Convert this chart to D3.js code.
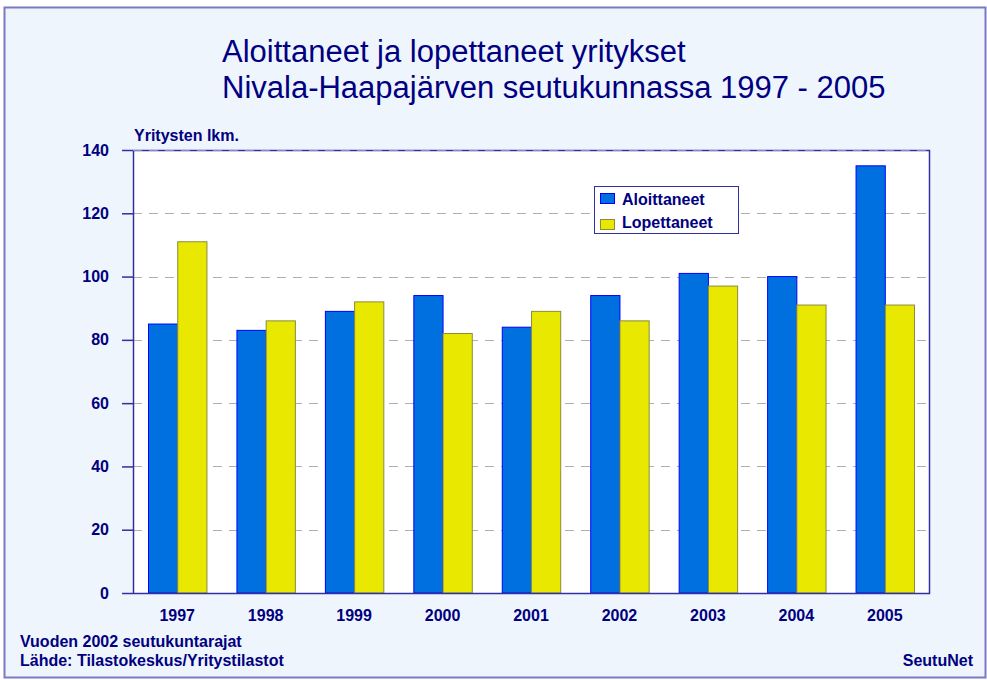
<!DOCTYPE html>
<html>
<head>
<meta charset="utf-8">
<script src="https://cdn.jsdelivr.net/npm/d3@7"></script>
<style>
  body { margin: 0; background: #fff; }
  svg text { font-family: "Liberation Sans", Arial, sans-serif; fill: #000080; }
</style>
</head>
<body>
<div id="chart"></div>
<script>
let years = ["1997", "1998", "1999", "2000", "2001", "2002", "2003", "2004", "2005"];
let aloittaneet = [85, 83, 89, 94, 84, 94, 101, 100, 135];
let lopettaneet = [111, 86, 92, 82, 89, 86, 97, 91, 91];
let seriesNames = ["Aloittaneet", "Lopettaneet"];
let yTicks = [0, 20, 40, 60, 80, 100, 120, 140];

let W = 987, H = 680;
let margin = {top: 150, right: 58, left: 133, bottom: 87};
let width = W - margin.left - margin.right;
let height = H - margin.top - margin.bottom;

let svg = d3.select("#chart").append("svg")
    .attr("width", W)
    .attr("height", H);

// background + outer frame
svg.append("rect")
    .attr("x", 4.5).attr("y", 7.5)
    .attr("width", W - 6).attr("height", H - 10)
    .attr("fill", "#eff5fd")
    .attr("stroke", "#7a7ac4")
    .attr("stroke-width", 2);

svg.append("text").attr("x", 222).attr("y", 62)
    .attr("font-size", 31).text("Aloittaneet ja lopettaneet yritykset");
svg.append("text").attr("x", 222).attr("y", 98)
    .attr("font-size", 31).text("Nivala-Haapajärven seutukunnassa 1997 - 2005");

let g = svg.append("g")
    .attr("transform", "translate(" + margin.left + "," + margin.top + ")");

let x = d3.scaleBand().domain(years).range([0, width]).paddingInner(0).paddingOuter(0);
let x1 = d3.scaleBand().domain(seriesNames).range([15, x.bandwidth() - 15]);
let y = d3.scaleLinear().domain([0, 140]).range([height, 0]);

g.append("rect")
    .attr("width", width).attr("height", height)
    .attr("fill", "#fff");

// grid
g.selectAll(".grid").data(yTicks.slice(1, -1)).enter()
    .append("line")
    .attr("x1", 0).attr("x2", width)
    .attr("y1", d => Math.round(y(d)) + 0.5).attr("y2", d => Math.round(y(d)) + 0.5)
    .attr("stroke", "#b0b0b0")
    .attr("stroke-dasharray", "9,7");

let data = years.map((yr, i) => ({year: yr, values: [
    {key: "Aloittaneet", value: aloittaneet[i]},
    {key: "Lopettaneet", value: lopettaneet[i]}
]}));

let fills = {"Aloittaneet": "#0070e0", "Lopettaneet": "#e8e800"};
let strokes = {"Aloittaneet": "#0000ff", "Lopettaneet": "#8c8c3c"};

let groups = g.selectAll(".grp").data(data).enter()
    .append("g")
    .attr("transform", d => "translate(" + x(d.year) + ",0)");

groups.selectAll("rect").data(d => d.values).enter()
    .append("rect")
    .attr("x", d => x1(d.key) + 0.5)
    .attr("y", d => y(d.value))
    .attr("width", x1.bandwidth())
    .attr("height", d => height - y(d.value))
    .attr("fill", d => fills[d.key])
    .attr("stroke", d => strokes[d.key])
    .attr("stroke-width", 1);

// frame
g.append("rect")
    .attr("x", 0.5).attr("y", 0.5)
    .attr("width", width).attr("height", height)
    .attr("fill", "none")
    .attr("stroke", "#3030a0")
    .attr("stroke-width", 1.5);

// dashes drawn over the top edge, like the reference
g.append("line")
    .attr("x1", 0).attr("x2", width)
    .attr("y1", 0.5).attr("y2", 0.5)
    .attr("stroke", "#8a8ab8")
    .attr("stroke-dasharray", "9,7");

let yAxis = g.append("g")
    .call(d3.axisLeft(y).tickValues(yTicks).tickSize(11).tickPadding(13));
yAxis.select(".domain").remove();
yAxis.selectAll("line").attr("stroke", "#3030a0").attr("stroke-width", 1.5);
yAxis.selectAll("text")
    .attr("font-size", 16).attr("font-weight", "bold")
    .attr("fill", "#000080")
    .style("font-family", "Liberation Sans, Arial, sans-serif");

let xAxis = g.append("g")
    .attr("transform", "translate(0," + height + ")")
    .call(d3.axisBottom(x).tickSize(0).tickPadding(17));
xAxis.select(".domain").remove();
xAxis.selectAll("text")
    .attr("font-size", 16).attr("font-weight", "bold")
    .attr("fill", "#000080")
    .style("font-family", "Liberation Sans, Arial, sans-serif");

svg.append("text").attr("x", 134).attr("y", 141)
    .attr("font-size", 16).attr("font-weight", "bold").text("Yritysten lkm.");

// legend
let legend = svg.append("g").attr("transform", "translate(594,186)");
legend.append("rect")
    .attr("x", 0.5).attr("y", 0.5).attr("width", 144).attr("height", 47)
    .attr("fill", "#fff").attr("stroke", "#3030a0");
seriesNames.forEach((s, i) => {
    legend.append("rect")
        .attr("x", 6.5).attr("y", 7.5 + i * 26).attr("width", 14).attr("height", 10)
        .attr("fill", fills[s]).attr("stroke", strokes[s]);
    legend.append("text")
        .attr("x", 28).attr("y", 19 + i * 23)
        .attr("font-size", 16).attr("font-weight", "bold").text(s);
});

svg.append("text").attr("x", 20).attr("y", 647)
    .attr("font-size", 16).attr("font-weight", "bold").text("Vuoden 2002 seutukuntarajat");
svg.append("text").attr("x", 20).attr("y", 666)
    .attr("font-size", 16).attr("font-weight", "bold").text("Lähde: Tilastokeskus/Yritystilastot");
svg.append("text").attr("x", 973).attr("y", 666)
    .attr("text-anchor", "end")
    .attr("font-size", 16).attr("font-weight", "bold").text("SeutuNet");
</script>
</body>
</html>
